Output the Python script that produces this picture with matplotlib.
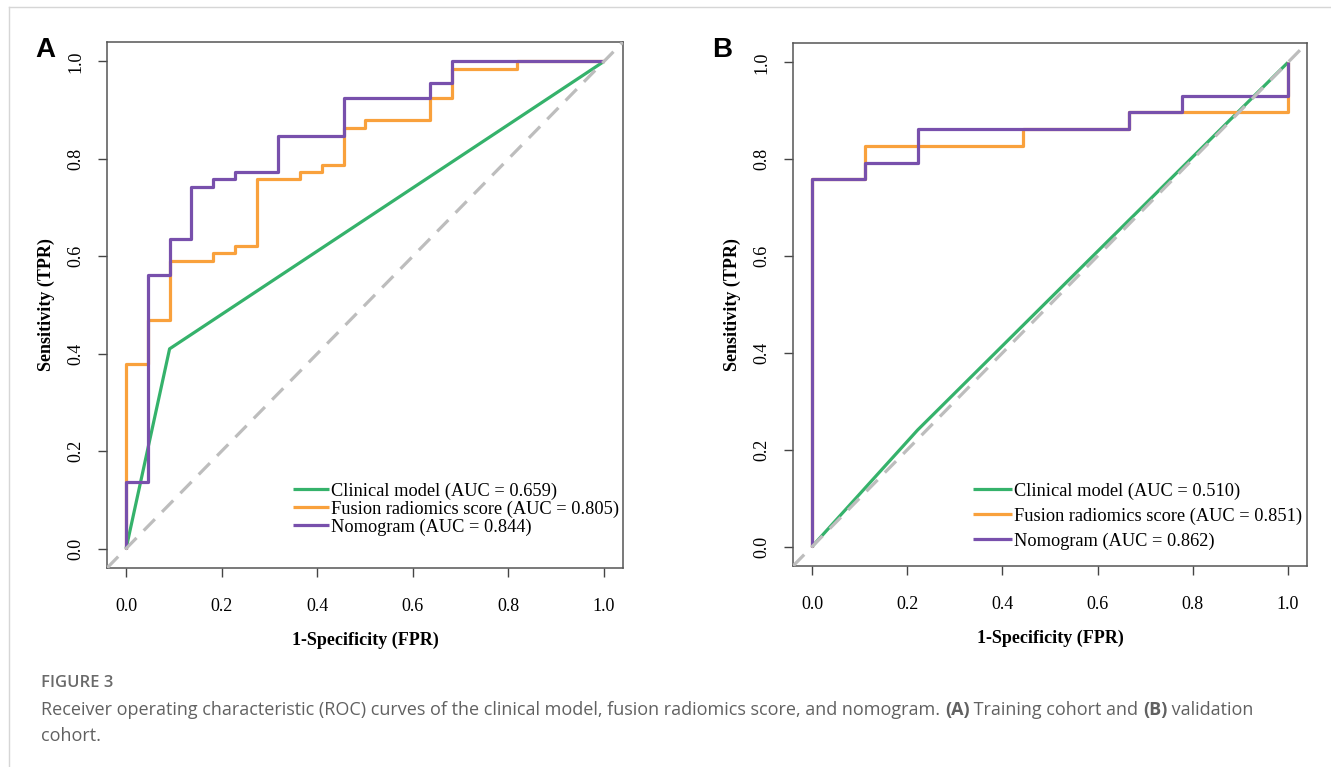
"""
plot.py - ROC curves of the clinical model, fusion radiomics score and nomogram
(training cohort A, validation cohort B), saved as out.png
"""

import numpy as np
import matplotlib
matplotlib.use("Agg")
import matplotlib.pyplot as plt
from matplotlib import font_manager
from matplotlib.lines import Line2D

# ====================================================================
# DATA (ROC vertices)
# ====================================================================
model_names = ["Clinical model", "Fusion radiomics score", "Nomogram"]
model_colors = ["#35B26B", "#F9A13C", "#7850AC"]

# --- training cohort (A) ---
auc_train = [0.659, 0.805, 0.844]
clin_train_fpr = [0.0, 0.091, 1.0]
clin_train_tpr = [0.0, 0.410, 1.0]
fus_train_fpr = [0.0, 0.0, 0.045, 0.045, 0.091, 0.091, 0.182, 0.182, 0.227, 0.227,
                 0.273, 0.273, 0.364, 0.364, 0.409, 0.409, 0.455, 0.455, 0.500, 0.500,
                 0.636, 0.636, 0.682, 0.682, 0.818, 0.818, 1.0]
fus_train_tpr = [0.0, 0.379, 0.379, 0.470, 0.470, 0.591, 0.591, 0.606, 0.606, 0.621,
                 0.621, 0.758, 0.758, 0.773, 0.773, 0.788, 0.788, 0.864, 0.864, 0.879,
                 0.879, 0.924, 0.924, 0.985, 0.985, 1.0, 1.0]
nom_train_fpr = [0.0, 0.0, 0.045, 0.045, 0.091, 0.091, 0.136, 0.136, 0.182, 0.182,
                 0.227, 0.227, 0.318, 0.318, 0.455, 0.455, 0.636, 0.636, 0.682, 0.682, 1.0]
nom_train_tpr = [0.0, 0.136, 0.136, 0.561, 0.561, 0.636, 0.636, 0.742, 0.742, 0.758,
                 0.758, 0.773, 0.773, 0.848, 0.848, 0.924, 0.924, 0.955, 0.955, 1.0, 1.0]

# --- validation cohort (B) ---
auc_valid = [0.510, 0.851, 0.862]
clin_valid_fpr = [0.0, 0.222, 1.0]
clin_valid_tpr = [0.0, 0.241, 1.0]
fus_valid_fpr = [0.0, 0.0, 0.111, 0.111, 0.444, 0.444, 0.667, 0.667, 1.0, 1.0]
fus_valid_tpr = [0.0, 0.759, 0.759, 0.828, 0.828, 0.862, 0.862, 0.897, 0.897, 1.0]
nom_valid_fpr = [0.0, 0.0, 0.111, 0.111, 0.222, 0.222, 0.667, 0.667, 0.778, 0.778, 1.0, 1.0]
nom_valid_tpr = [0.0, 0.759, 0.759, 0.793, 0.793, 0.862, 0.862, 0.897, 0.897, 0.931, 0.931, 1.0]

tick_vals = [0.0, 0.2, 0.4, 0.6, 0.8, 1.0]
tick_labels = ["0.0", "0.2", "0.4", "0.6", "0.8", "1.0"]

caption_title = "FIGURE 3"
caption_parts = [
    ("Receiver operating characteristic (ROC) curves of the clinical model, fusion radiomics score, and nomogram. ", "normal"),
    ("(A)", "bold"),
    (" Training cohort and ", "normal"),
    ("(B)", "bold"),
    (" validation", "normal"),
]
caption_line2 = "cohort."

SERIF = ["Liberation Serif", "DejaVu Serif"]
W, H = 1331, 767


def pick_family(candidates):
    """Return the first installed family from the candidate list"""
    for fam in candidates:
        try:
            font_manager.findfont(font_manager.FontProperties(family = fam),
                                  fallback_to_default = False)
            return fam
        except ValueError:
            continue
    return "DejaVu Sans"


CAP_FONT = pick_family(["Open Sans", "Liberation Sans"])


# ====================================================================
# ONE ROC PANEL
# ====================================================================
def draw_roc(ax, curves, aucs, leg_anchor, leg_spacing, handle_len):
    """Draw the three ROC curves, the chance diagonal, ticks and legend"""
    for (fpr, tpr), name, col, auc in zip(curves, model_names, model_colors, aucs):
        ax.plot(fpr, tpr, color = col, linewidth = 2.3,
                label = f"{name} (AUC = {auc:.3f})", solid_capstyle = "butt")
    ax.axline((0, 0), (1, 1), color = "#BDBDBD", linewidth = 2.3,
              linestyle = (0, (5, 3.2)), zorder = 5)

    ax.set_xlim(-0.04, 1.04)
    ax.set_ylim(-0.04, 1.04)
    ax.set_xticks(tick_vals)
    ax.set_xticklabels(tick_labels, family = SERIF, fontsize = 13)
    ax.set_yticks(tick_vals)
    ax.set_yticklabels(tick_labels, family = SERIF, fontsize = 13,
                       rotation = 90, va = "center")
    ax.tick_params(direction = "out", length = 6.5, width = 1.0, color = "#444444")
    ax.tick_params(axis = "x", pad = 15)
    ax.tick_params(axis = "y", pad = 10)
    for sp in ax.spines.values():
        sp.set_color("#555555")
        sp.set_linewidth(1.1)

    ax.set_xlabel("1-Specificity (FPR)", family = SERIF, fontsize = 13,
                  fontweight = "bold", labelpad = 12)
    ax.set_ylabel("Sensitivity (TPR)", family = SERIF, fontsize = 13,
                  fontweight = "bold", labelpad = 9)

    ax.legend(loc = "center left", bbox_to_anchor = leg_anchor, frameon = False,
              prop = {"family": SERIF, "size": 13.2}, borderpad = 0, borderaxespad = 0,
              handlelength = handle_len, handletextpad = 0.1,
              labelspacing = leg_spacing)


# ====================================================================
# FIGURE
# ====================================================================
fig = plt.figure(figsize = (W / 100, H / 100), dpi = 100)

ax_a = fig.add_axes([107 / W, 1 - 568 / H, 516 / W, 526 / H])
draw_roc(ax_a,
         [(clin_train_fpr, clin_train_tpr), (fus_train_fpr, fus_train_tpr),
          (nom_train_fpr, nom_train_tpr)],
         auc_train, (0.3605, 0.112), 0.03, 1.95)

ax_b = fig.add_axes([793 / W, 1 - 566 / H, 514 / W, 523 / H])
draw_roc(ax_b,
         [(clin_valid_fpr, clin_valid_tpr), (fus_valid_fpr, fus_valid_tpr),
          (nom_valid_fpr, nom_valid_tpr)],
         auc_valid, (0.350, 0.0955), 0.42, 2.15)

# panel letters
fig.text(45 / W, 1 - 50 / H, "A", family = "Liberation Sans", fontweight = "bold",
         fontsize = 20, ha = "center", va = "center")
fig.text(722 / W, 1 - 50 / H, "B", family = "Liberation Sans", fontweight = "bold",
         fontsize = 20, ha = "center", va = "center")

# page frame lines
fig.add_artist(Line2D([9 / W, 1], [1 - 7 / H, 1 - 7 / H], color = "#D6D6D6", linewidth = 1.0))
fig.add_artist(Line2D([9 / W, 9 / W], [0, 1 - 7 / H], color = "#D6D6D6", linewidth = 1.0))

# caption
cap_color = "#616161"
cap_size = 13.0
fig.text(41 / W, 1 - 683 / H, caption_title, family = CAP_FONT, fontweight = "semibold",
         fontsize = 12, color = "#6A6A6A", va = "center")

fig.canvas.draw()
renderer = fig.canvas.get_renderer()
x_px = 41
for txt, weight in caption_parts:
    t = fig.text(x_px / W, 1 - 710 / H, txt, family = CAP_FONT, fontweight = weight,
                 fontsize = cap_size, color = cap_color, va = "center")
    x_px += t.get_window_extent(renderer).width
fig.text(41 / W, 1 - 736 / H, caption_line2, family = CAP_FONT, fontsize = cap_size,
         color = cap_color, va = "center")

fig.savefig("out.png", dpi = 100)
plt.close(fig)
